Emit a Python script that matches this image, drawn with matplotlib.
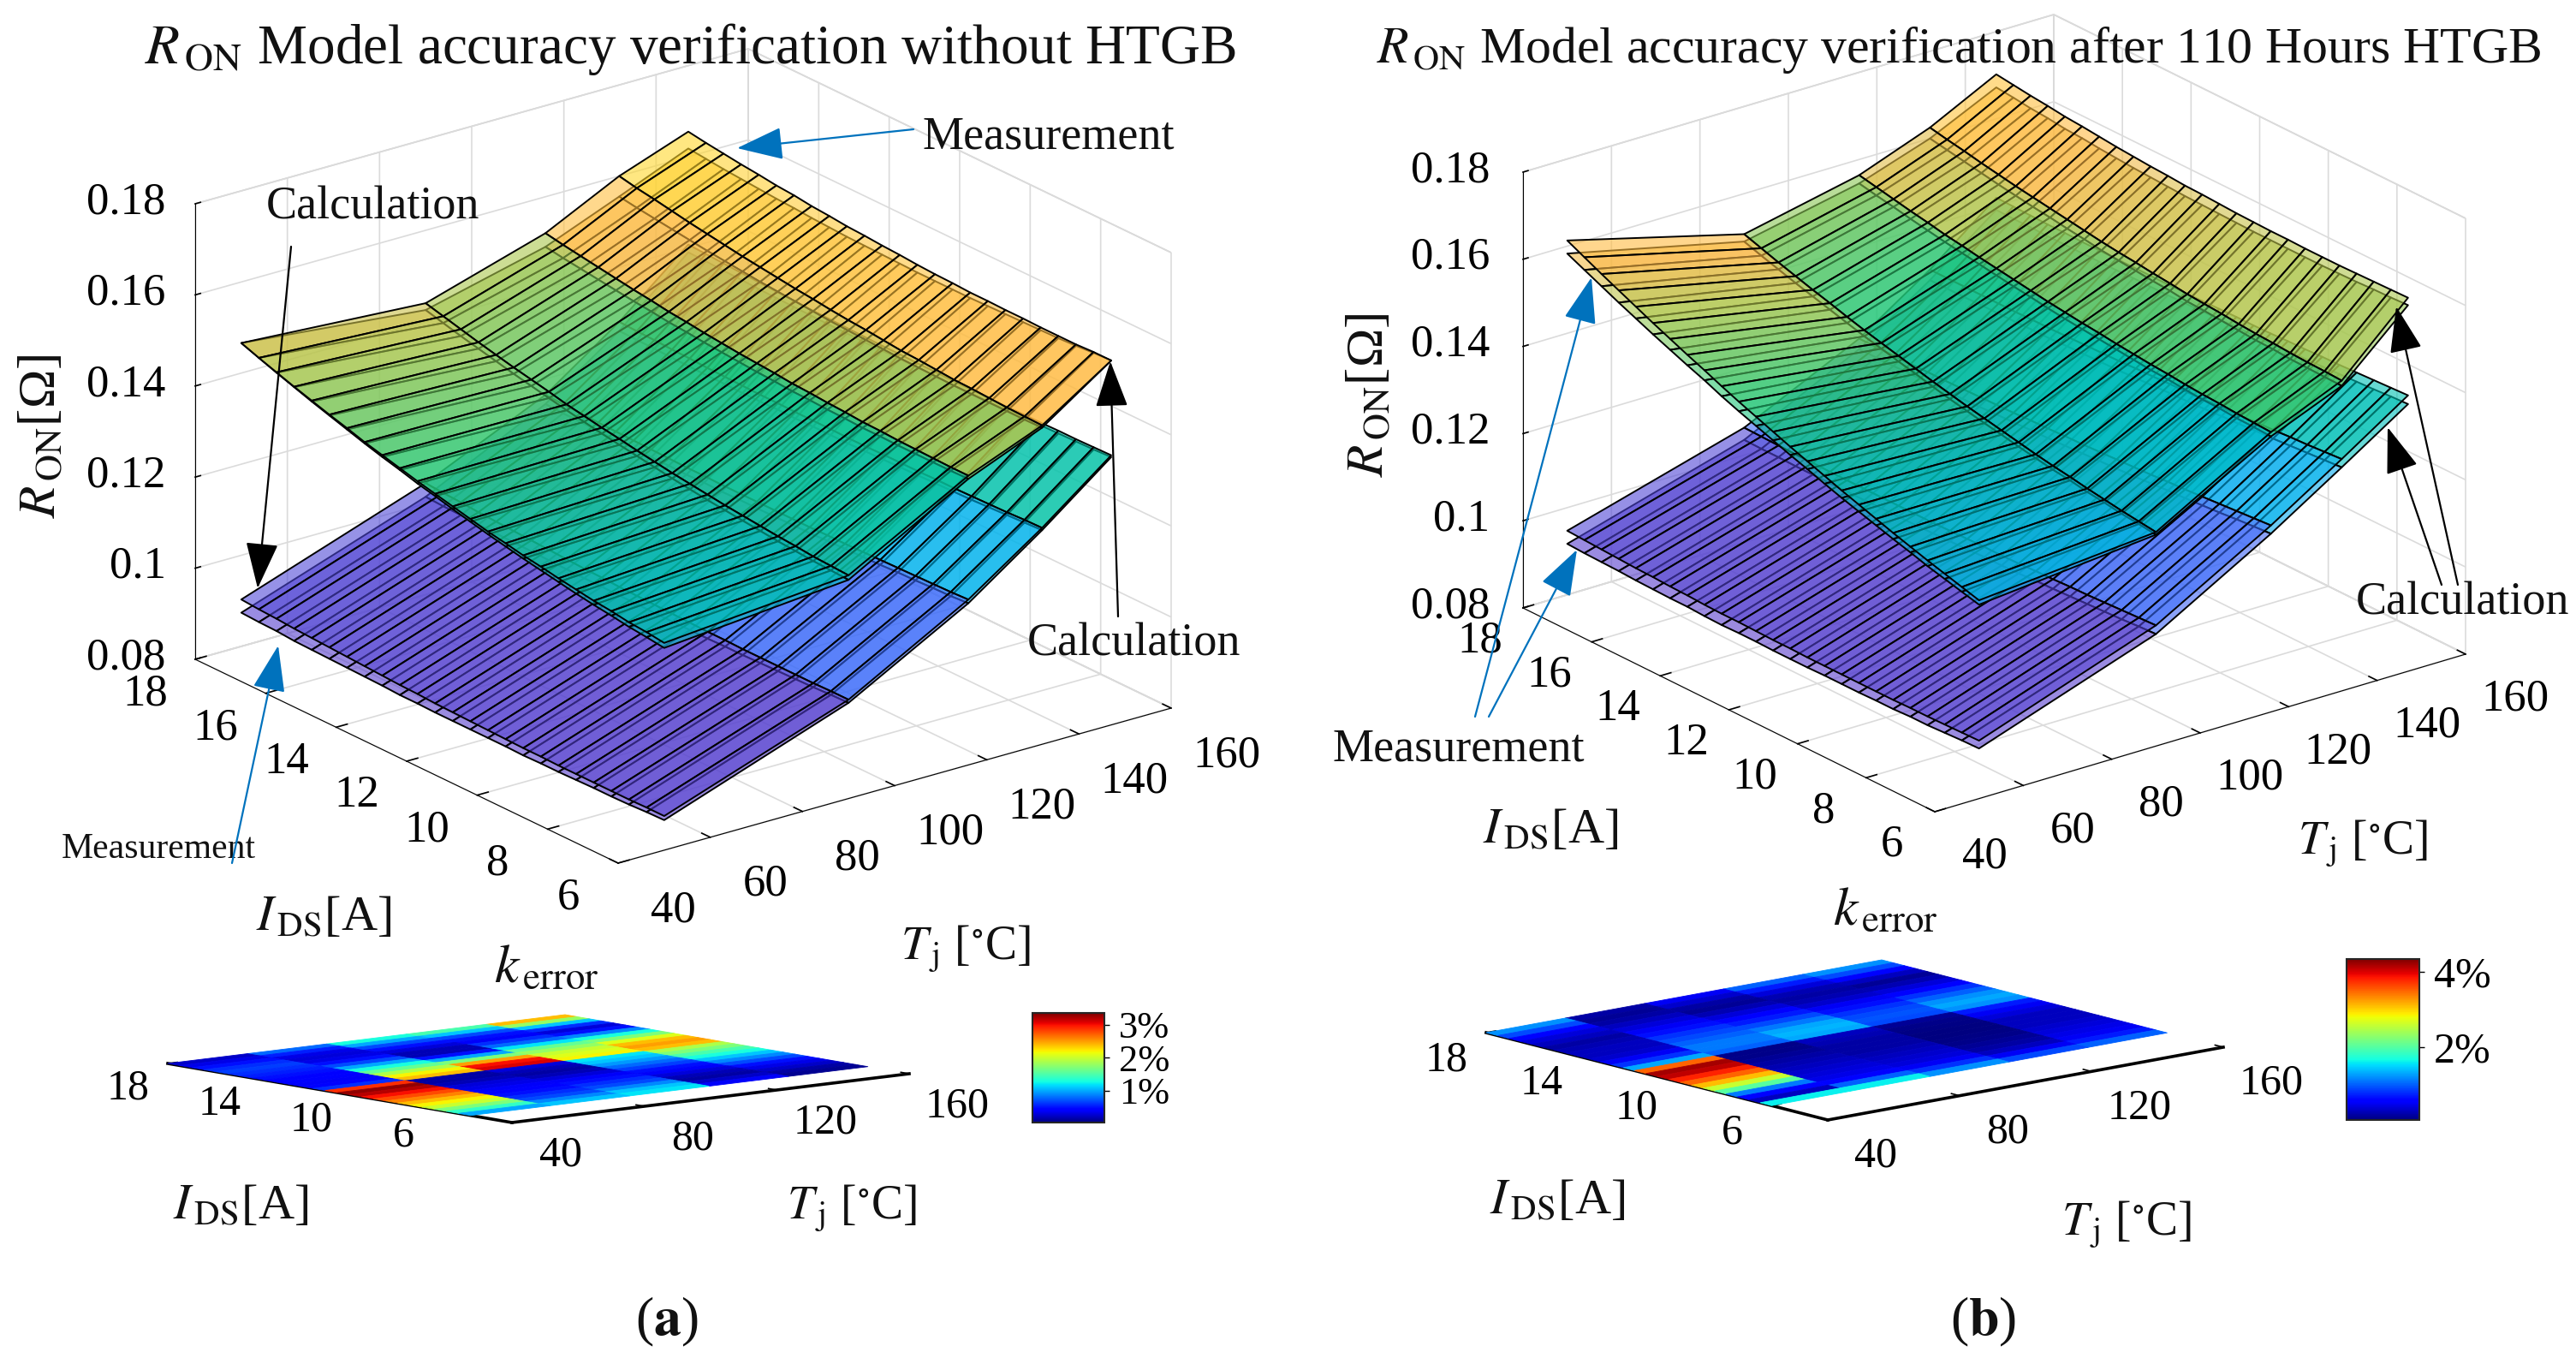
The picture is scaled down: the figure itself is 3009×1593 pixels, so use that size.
import numpy as np
import matplotlib
matplotlib.use('Agg')
import matplotlib.pyplot as plt
from matplotlib.colors import LinearSegmentedColormap, Normalize
from matplotlib.cm import ScalarMappable
from mpl_toolkits.mplot3d import Axes3D  # noqa

plt.rcParams['font.family'] = ['Liberation Serif', 'DejaVu Serif']
plt.rcParams['mathtext.fontset'] = 'stix'

W, H = 3009, 1593

# ---------- data (R_ON in 1e-4 ohm, one list per temperature column) ----------
T_COLS = [50, 90, 116, 132, 147]
I_ROWS = [6, 6.5, 7, 7.5, 8, 8.5, 9, 9.5, 10, 10.5, 11, 11.5, 12, 12.5, 13, 13.5, 14, 14.5, 15, 15.5, 16, 16.5, 17, 17.5, 18]

A_UP_CALC = [
 [1244,1249,1253,1259,1264,1270,1277,1284,1291,1299,1307,1316,1325,1335,1344,1355,1365,1376,1388,1400,1412,1425,1438,1452,1466],
 [1280,1282,1284,1287,1290,1294,1298,1302,1306,1311,1316,1322,1328,1334,1340,1347,1354,1362,1370,1378,1387,1396,1405,1415,1425],
 [1428,1427,1427,1427,1427,1428,1428,1430,1431,1433,1434,1437,1439,1442,1445,1448,1452,1455,1460,1464,1469,1474,1479,1484,1490],
 [1495,1494,1494,1494,1494,1494,1495,1496,1497,1499,1501,1503,1505,1508,1511,1514,1517,1521,1525,1529,1534,1539,1544,1549,1555],
 [1600,1598,1595,1593,1592,1591,1590,1589,1588,1588,1588,1588,1589,1590,1591,1592,1594,1596,1599,1601,1604,1607,1610,1614,1618]]
A_UP_MEAS = [
 [1255,1260,1263,1269,1273,1279,1285,1292,1298,1306,1313,1322,1331,1340,1349,1359,1369,1379,1391,1402,1414,1426,1439,1452,1466],
 [1290,1292,1294,1298,1301,1305,1309,1313,1318,1323,1328,1334,1340,1347,1353,1360,1367,1376,1384,1392,1401,1410,1420,1430,1440],
 [1435,1435,1436,1437,1438,1440,1441,1444,1446,1449,1451,1455,1458,1461,1465,1469,1474,1478,1484,1489,1495,1501,1507,1513,1520],
 [1500,1501,1502,1504,1506,1507,1510,1513,1515,1519,1523,1526,1530,1535,1539,1544,1549,1554,1560,1566,1572,1579,1586,1592,1600],
 [1600,1600,1598,1598,1598,1599,1599,1600,1600,1602,1603,1605,1608,1610,1613,1615,1619,1622,1627,1630,1635,1639,1644,1649,1655]]
A_LO_CALC = [
 [875,875,874,874,874,874,874,875,875,876,877,878,879,880,882,883,885,887,889,891,893,895,898,900,903],
 [1017,1017,1016,1016,1016,1016,1016,1017,1017,1018,1019,1020,1021,1022,1024,1025,1027,1029,1031,1033,1035,1037,1040,1042,1045],
 [1163,1161,1160,1159,1158,1157,1156,1155,1155,1154,1154,1154,1154,1154,1154,1155,1155,1156,1157,1158,1159,1160,1162,1163,1165],
 [1275,1274,1272,1271,1270,1269,1269,1268,1268,1268,1267,1267,1268,1268,1268,1269,1269,1270,1271,1272,1274,1275,1277,1278,1280],
 [1392,1391,1390,1390,1389,1389,1388,1388,1388,1388,1389,1389,1390,1390,1391,1392,1393,1394,1396,1397,1399,1401,1403,1405,1407]]
A_LO_MEAS = [
 [866,865,863,862,862,861,860,860,859,860,860,860,860,860,861,861,863,864,865,866,867,868,871,872,874],
 [1010,1009,1007,1006,1005,1004,1003,1003,1002,1002,1002,1002,1003,1003,1004,1004,1005,1006,1007,1008,1009,1010,1012,1013,1015],
 [1155,1152,1151,1149,1148,1146,1145,1144,1143,1141,1141,1140,1140,1140,1139,1140,1139,1140,1140,1141,1141,1141,1143,1143,1145],
 [1270,1268,1266,1264,1262,1261,1260,1259,1258,1257,1256,1255,1255,1255,1254,1255,1254,1254,1255,1255,1256,1257,1258,1259,1260],
 [1388,1386,1385,1384,1383,1382,1381,1380,1380,1379,1380,1379,1380,1379,1379,1380,1380,1381,1382,1383,1384,1386,1387,1389,1390]]

B_UP_CALC = [
 [1255,1266,1277,1288,1300,1312,1325,1338,1351,1365,1379,1393,1408,1423,1438,1454,1471,1487,1504,1521,1539,1557,1575,1594,1613],
 [1291,1296,1301,1307,1313,1320,1326,1333,1341,1349,1357,1365,1374,1383,1393,1403,1413,1423,1434,1446,1457,1469,1481,1494,1507],
 [1442,1444,1446,1449,1451,1454,1458,1461,1465,1469,1474,1478,1483,1488,1494,1500,1506,1512,1519,1525,1533,1540,1548,1556,1564],
 [1512,1514,1515,1517,1520,1522,1525,1529,1532,1535,1540,1544,1549,1553,1558,1564,1570,1576,1582,1588,1595,1602,1610,1617,1625],
 [1657,1656,1655,1654,1653,1653,1653,1654,1654,1655,1656,1658,1660,1661,1664,1666,1669,1672,1676,1680,1683,1688,1692,1697,1702]]
B_UP_MEAS = [
 [1245,1255,1265,1275,1287,1298,1310,1322,1334,1347,1361,1374,1388,1402,1416,1431,1448,1463,1479,1495,1512,1529,1547,1565,1583],
 [1285,1290,1294,1300,1305,1312,1317,1324,1331,1339,1346,1354,1362,1371,1381,1390,1400,1409,1420,1431,1442,1453,1465,1477,1490],
 [1432,1434,1435,1438,1439,1442,1446,1448,1452,1456,1460,1464,1468,1473,1479,1484,1490,1496,1502,1508,1515,1522,1530,1537,1545],
 [1500,1501,1502,1503,1506,1507,1510,1513,1516,1518,1523,1526,1530,1534,1538,1544,1549,1555,1560,1566,1572,1579,1586,1593,1600],
 [1640,1638,1637,1635,1634,1633,1633,1633,1633,1633,1634,1635,1636,1637,1639,1641,1643,1646,1649,1653,1655,1660,1663,1668,1672]]
B_LO_CALC = [
 [933,932,931,930,930,929,929,929,929,929,929,930,930,931,932,932,933,935,936,938,939,941,943,945,947],
 [1077,1075,1073,1071,1069,1068,1066,1065,1063,1062,1062,1061,1060,1059,1059,1059,1059,1059,1059,1059,1060,1060,1061,1062,1063],
 [1228,1225,1222,1219,1216,1213,1211,1208,1206,1204,1202,1200,1199,1197,1196,1194,1193,1192,1191,1190,1190,1189,1189,1189,1189],
 [1332,1329,1326,1324,1321,1319,1316,1314,1312,1310,1309,1307,1306,1304,1303,1302,1301,1300,1300,1299,1299,1299,1299,1299,1299],
 [1433,1431,1429,1427,1425,1424,1422,1421,1419,1418,1418,1417,1416,1415,1415,1415,1415,1415,1415,1415,1416,1416,1417,1418,1419]]
B_LO_MEAS = [
 [915,914,912,910,910,908,908,907,907,907,906,906,906,907,907,906,907,909,909,910,911,913,914,915,917],
 [1057,1055,1052,1050,1048,1046,1044,1043,1040,1039,1039,1037,1036,1035,1034,1034,1034,1033,1033,1033,1033,1033,1034,1034,1035],
 [1209,1206,1203,1199,1196,1193,1191,1188,1185,1183,1181,1179,1177,1175,1174,1172,1171,1169,1168,1167,1167,1166,1165,1165,1165],
 [1313,1310,1307,1304,1301,1299,1296,1294,1291,1289,1288,1286,1284,1282,1281,1280,1279,1277,1277,1276,1276,1276,1275,1275,1275],
 [1413,1411,1408,1406,1404,1402,1400,1399,1396,1395,1395,1393,1392,1391,1390,1390,1390,1389,1389,1389,1389,1389,1390,1390,1391]]

# k_error [%], one list per temperature block, from I = 18 A downwards
A_ERR = [
 [.25,.35,.5,.6,.65,.6,.55,.5,.45,.42,.4,.45,.6,2.9,3.3,3.2,3.0,2.8,2.6,2.4,2.2,2.0,1.7,1.4,1.0],
 [.8,.55,.35,.3,.35,.5,.7,1.0,1.3,1.6,1.9,2.2,2.4,.15,.15,.2,.3,.35,.4,.45,.5,.6,.7,.9,1.1],
 [1.3,1.0,.7,.5,.3,.2,.2,.5,1.0,1.7,2.5,3.0,3.1,.3,.2,.15,.2,.3,.4,.5,.6,.7,.9,1.1,1.2],
 [1.5,1.1,.7,.5,.4,.6,.8,1.2,1.6,1.8,2.0,2.1,2.2,1.2,1.1,.95,.8,.65,.5,.4,.3,.2,.15,.25,.4],
 [2.4,1.8,1.1,.6,.3,.5,.9,1.3,1.7,2.1,2.4,2.5,2.4,1.9,1.7,1.5,1.3,1.1,.9,.7,.5,.35,.25,.15,.1]]
B_ERR = [
 [1.2,.9,.6,.4,.3,.2,.25,.3,.3,.35,.5,.8,1.3,3.5,4.2,4.1,3.8,3.5,3.1,2.6,2.0,1.1,.6,.3,1.6],
 [.2,.15,.2,.3,.4,.5,.65,.8,.9,1.0,1.1,1.1,1.0,.1,.1,.15,.2,.25,.3,.35,.4,.45,.6,1.0,1.6],
 [.5,.35,.2,.15,.25,.4,.55,.7,.9,1.1,1.3,1.35,1.3,.3,.25,.2,.2,.2,.25,.3,.35,.4,.5,.8,1.2],
 [1.0,.7,.4,.25,.2,.25,.35,.5,.65,.8,.9,.95,.9,.15,.1,.08,.07,.07,.08,.1,.15,.2,.3,.5,.9],
 [1.2,.9,.6,.3,.15,.25,.4,.6,.8,1.0,1.2,1.3,1.2,.7,.5,.4,.3,.3,.3,.35,.4,.45,.5,.7,1.0]]
ERR_T_EDGES = [40, 64, 88, 112, 136, 160]

X_TICKS = [40, 60, 80, 100, 120, 140, 160]
Y_TICKS = [6, 8, 10, 12, 14, 16, 18]
Z_TICKS = [0.08, 0.10, 0.12, 0.14, 0.16, 0.18]
Z_LABELS = ['0.08', '0.1', '0.12', '0.14', '0.16', '0.18']
INSET_X_TICKS = [40, 80, 120, 160]
INSET_Y_TICKS = [6, 10, 14, 18]

parula = LinearSegmentedColormap.from_list('parula_like', [
    (0.00, (.35, .23, .79)), (0.20, (.23, .42, .98)),
    (0.37, (.00, .70, .93)), (0.50, (.00, .76, .68)),
    (0.60, (.15, .78, .45)), (0.70, (.68, .78, .30)),
    (0.77, (1.0, .72, .27)), (1.00, (1.0, .95, .10))])

fig = plt.figure(figsize=(W / 100, H / 100), dpi=100, facecolor='white')


def new_axes(left_px):
    ax = fig.add_axes([left_px / W, 0, H / W, 1], projection='3d', computed_zorder=False)
    ax.set_facecolor('none')
    ax.view_init(elev=30, azim=-135)
    return ax


def set_projection(ax, lims, P0, Px, Py, Pz):
    """Affine map of the data box onto the picture, as in the reference's view."""
    ax.set_xlim(*lims[0], view_margin=0)
    ax.set_ylim(*lims[1], view_margin=0)
    ax.set_zlim(*lims[2], view_margin=0)
    ax.apply_aspect()
    inv = ax.transData.inverted()
    conv = lambda p: inv.transform((p[0], H - p[1]))
    D0, Dx, Dy, Dz = map(conv, (P0, Px, Py, Pz))
    (x0, x1), (y0, y1), (z0, z1) = lims
    xr, yr, zr = x1 - x0, y1 - y0, z1 - z0
    M = np.eye(4)
    for i in range(2):
        a, b, c = (Dx[i] - D0[i]) / xr, (Dy[i] - D0[i]) / yr, (Dz[i] - D0[i]) / zr
        M[i] = [a, b, c, D0[i] - a * x0 - b * y0 - c * z0]
    M[2] = [1 / xr, 1 / yr, -.5 / zr, -x0 / xr - y0 / yr + .5 * z0 / zr]
    ax.get_proj = lambda: M


def style_ticks(axis, ticks, labels, pad, size, ha, va, mask=None, out=.25):
    axis.set_ticks(ticks)
    axis.set_ticklabels(labels)
    axis.set_tick_params(pad=pad, labelsize=size)
    for lab in axis.get_ticklabels():
        lab.set_ha(ha)
        lab.set_va(va)
    axis._axinfo['tick']['outward_factor'] = out
    axis._axinfo['tick']['inward_factor'] = 0
    axis._axinfo['tick']['linewidth'] = {True: 1.2, False: .8}
    axis._axinfo['axisline']['color'] = (0, 0, 0, 1)
    axis.line.set_color('k')
    if mask is not None:
        axis._axmask = lambda m=mask: list(m)


def main_panel(left_px, P0, Px, Py, Pz, sheets, vmin, vmax, pads):
    ax = new_axes(left_px)
    set_projection(ax, ((40, 160), (6, 18), (.08, .18)), P0, Px, Py, Pz)
    style_ticks(ax.xaxis, X_TICKS, [str(v) for v in X_TICKS], pads[0], 38, 'center', 'top', (False, True, False))
    style_ticks(ax.yaxis, Y_TICKS, [str(v) for v in Y_TICKS], pads[1], 38, 'center', 'top', (True, False, False))
    style_ticks(ax.zaxis, Z_TICKS, Z_LABELS, pads[2], 38, 'right', 'center', None, out=.12)
    for axis in (ax.xaxis, ax.yaxis, ax.zaxis):
        axis.set_pane_color((1, 1, 1, 1))
        axis.pane.set_edgecolor((.82, .82, .82, 1))
        axis.pane.set_linewidth(1.2)
        axis._axinfo['grid'].update(color=(.86, .86, .86, 1), linewidth=1.2)
    X, Y = np.meshgrid(T_COLS, I_ROWS)
    norm = Normalize(vmin, vmax)
    for order, table in enumerate(sheets):
        Z = np.array(table, float).T / 1e4
        colours = parula(norm(Z))
        colours[..., 3] = .6
        surf = ax.plot_surface(X, Y, Z, facecolors=colours, rstride=1, cstride=1,
                               shade=False, zorder=order + 2)
        surf.set_edgecolor((0, 0, 0, 1))
        surf.set_linewidth(1.4)
    return ax


def inset_panel(left_px, P0, Px, Py, Pz, ylo, err, iend, vmax, pads):
    ax = new_axes(left_px)
    set_projection(ax, ((40, 160), (ylo, 18), (0, 1)), P0, Px, Py, Pz)
    style_ticks(ax.xaxis, INSET_X_TICKS, [str(v) for v in INSET_X_TICKS], pads[0], 36, 'center', 'center', (False, True, True), out=.3)
    style_ticks(ax.yaxis, INSET_Y_TICKS, [str(v) for v in INSET_Y_TICKS], pads[1], 36, 'center', 'top', (True, False, False), out=.3)
    ax.set_zticks([])
    ax.grid(False)
    ax.zaxis.line.set_color((0, 0, 0, 0))
    ax.xaxis.line.set_linewidth(2.6)
    ax.yaxis.line.set_linewidth(2.6)
    for axis in (ax.xaxis, ax.yaxis, ax.zaxis):
        axis.set_pane_color((1, 1, 1, 0))
        axis.pane.set_visible(False)
    rows = np.linspace(18, iend, 26)
    X, Y = np.meshgrid(ERR_T_EDGES, rows)
    colours = plt.get_cmap('jet')(Normalize(*vmax)(np.array(err, float).T))
    surf = ax.plot_surface(X, Y, np.zeros_like(X, float), facecolors=colours, rstride=1, cstride=1,
                           shade=False, linewidth=.6, antialiased=True, zorder=2)
    return ax


main_panel(0, (722, 1008), (1368, 827), (228, 770), (722, 476),
           [A_LO_MEAS, A_LO_CALC, A_UP_CALC, A_UP_MEAS], .085, .168, (70, 46, 10))
main_panel(W - H, (2260, 948), (2880, 764), (1779, 710), (2260, 439),
           [B_LO_MEAS, B_LO_CALC, B_UP_MEAS, B_UP_CALC], .090, .178, (64, 40, 13))
inset_panel(0, (598, 1311), (1062, 1254), (196, 1242), (598, 1111), 3, A_ERR, 4.8, (.04, 3.36), (76, 52))
inset_panel(W - H, (2135, 1308), (2597, 1223), (1736, 1206), (2135, 1108), 3.64, B_ERR, 6, (.06, 4.34), (76, 52))


def colourbar(x0, x1, y0, y1, vrange, ticks, size):
    cax = fig.add_axes([x0 / W, 1 - y1 / H, (x1 - x0) / W, (y1 - y0) / H])
    sm = ScalarMappable(Normalize(*vrange), plt.get_cmap('jet'))
    cb = fig.colorbar(sm, cax=cax, ticks=ticks, format='%d%%')
    cb.ax.tick_params(labelsize=size, length=4, width=1, pad=8)
    cb.outline.set_edgecolor((.15, .15, .15))
    cb.outline.set_linewidth(1.5)


colourbar(1206, 1290, 1183, 1311, (.04, 3.36), [1, 2, 3], 32)
colourbar(2741, 2826, 1120, 1308, (.06, 4.34), [2, 4], 36)

# overlay in picture coordinates for titles, labels and call-outs
ov = fig.add_axes([0, 0, 1, 1], zorder=20)
ov.set_xlim(0, W)
ov.set_ylim(H, 0)
ov.axis('off')

R = r'$\mathit{R}_{\,\mathrm{ON}}$'
ID = r'$\mathit{I}_{\,\mathrm{DS}}$[A]'
TJ = r'$\mathit{T}_{\,\mathrm{j}}$ [$^{\circ}$C]'
KE = r'$\mathit{k}_{\,\mathrm{error}}$'
TEXTS = [
    (R + ' Model accuracy verification without HTGB', 807, 58, 47, 0),
    (R + ' Model accuracy verification after 110 Hours HTGB', 2288, 58, 43, 0),
    (R + '[Ω]', 50, 509, 44, 90), (R + '[Ω]', 1601, 461, 44, 90),
    (ID, 378, 1073, 42, 0), (TJ, 1128, 1108, 40, 0),
    (ID, 1811, 971, 42, 0), (TJ, 2760, 985, 40, 0),
    (KE, 638, 1132, 46, 0), (ID, 281, 1410, 42, 0), (TJ, 995, 1411, 40, 0),
    (KE, 2202, 1065, 46, 0), (ID, 1819, 1404, 42, 0), (TJ, 2484, 1430, 40, 0),
    ('Calculation', 436, 242, 39, 0), ('Calculation', 1325, 752, 39, 0),
    ('Measurement', 1225, 160, 39, 0), ('Measurement', 185, 992, 30, 0),
    ('Measurement', 1704, 875, 39, 0), ('Calculation', 2877, 704, 39, 0),
    (r'($\mathbf{a}$)', 779, 1544, 46, 0), (r'($\mathbf{b}$)', 2317, 1544, 46, 0),
]
for s, x, y, size, rot in TEXTS:
    ov.text(x, y, s, fontsize=size, rotation=rot, ha='center', va='center', color='#111111')

BLUE, BLACK = '#0072BD', '#000000'
ARROWS = [
    ((340, 288), (301, 687), BLACK), ((1306, 720), (1297, 422), BLACK),
    ((1067, 151), (861, 173), BLUE), ((271, 1008), (325, 754), BLUE),
    ((1723, 837), (1859, 324), BLUE), ((1739, 837), (1842, 642), BLUE),
    ((2871, 683), (2799, 358), BLACK), ((2852, 683), (2789, 499), BLACK),
]
for start, end, colour in ARROWS:
    ov.annotate('', xy=end, xytext=start,
                arrowprops=dict(arrowstyle='-|>,head_length=1.7,head_width=.6', color=colour,
                                lw=1.6, shrinkA=0, shrinkB=0, mutation_scale=20))

fig.savefig('out.png', dpi=100)
